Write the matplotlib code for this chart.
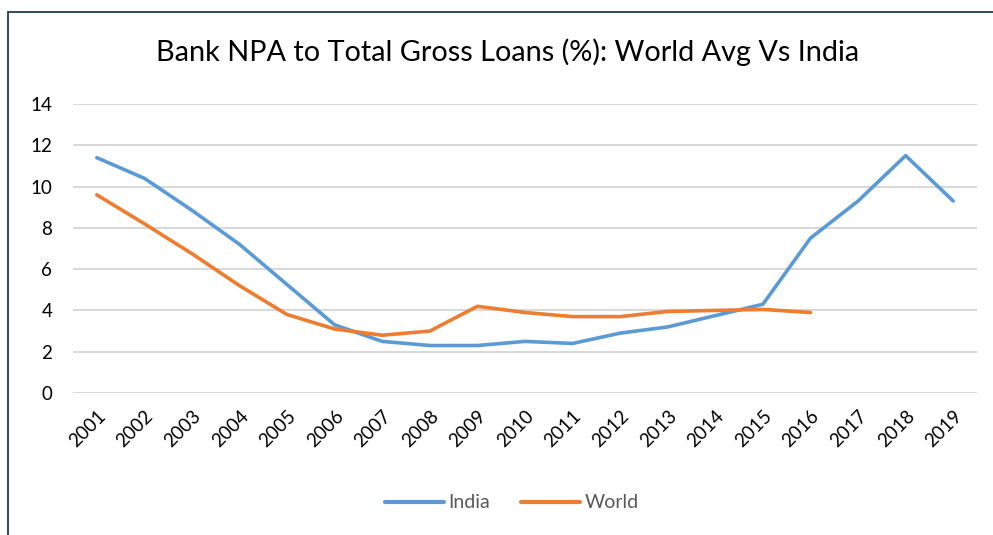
import matplotlib.pyplot as plt
from matplotlib.patches import Rectangle

# Bank NPA to total gross loans (%)
years = ['2001', '2002', '2003', '2004', '2005', '2006', '2007', '2008', '2009', '2010',
         '2011', '2012', '2013', '2014', '2015', '2016', '2017', '2018', '2019']
india = [11.4, 10.4, 8.85, 7.2, 5.25, 3.3, 2.5, 2.3, 2.3, 2.5,
         2.4, 2.9, 3.2, 3.75, 4.3, 7.5, 9.3, 11.5, 9.3]
world = [9.6, 8.2, 6.75, 5.2, 3.8, 3.1, 2.8, 3.0, 4.2, 3.9,
         3.7, 3.7, 3.95, 4.0, 4.05, 3.9]
y_ticks = [0, 2, 4, 6, 8, 10, 12, 14]

plt.rcParams['font.family'] = ['Lato', 'DejaVu Sans']

fig = plt.figure(figsize=(9.93, 5.35), dpi=100)
ax = fig.add_axes([73 / 993, 1 - 393 / 535, (977 - 73) / 993, (393 - 104) / 535])

x = list(range(len(years)))
ax.plot(x, india, color='#5b9bd5', lw=2.6, label='India', solid_capstyle='round')
ax.plot(x[:len(world)], world, color='#ed7d31', lw=2.6, label='World', solid_capstyle='round')

ax.set_xlim(-0.5, len(years) - 0.5)
ax.set_ylim(0, 14)
ax.set_yticks(y_ticks)
ax.set_yticklabels([str(v) for v in y_ticks], fontsize=13.5)
ax.set_xticks(x)
ax.set_xticklabels(years, rotation=45, ha='right', rotation_mode='anchor', fontsize=13.5)
ax.tick_params(length=0, pad=10)
ax.tick_params(axis='y', pad=15)
ax.grid(axis='y', color='#d9d9d9', lw=1.5)
ax.set_axisbelow(True)
for s in ax.spines.values():
    s.set_visible(False)

fig.text(508 / 993, 1 - 52 / 535, 'Bank NPA to Total Gross Loans (%): World Avg Vs India',
         ha='center', va='center', fontsize=20.8)

leg = fig.legend(loc='center', bbox_to_anchor=(512 / 993, 1 - 503 / 535), ncol=2,
                 frameon=False, fontsize=14, handlelength=3.0, columnspacing=1.6,
                 handletextpad=0.25)
for t in leg.get_texts():
    t.set_color('#595959')
for h in leg.legend_handles:
    h.set_linewidth(3)

# chart frame (only left and top edges are visible in the crop)
fig.add_artist(Rectangle((8 / 993, -0.1), 1.2, 1.1 - 12 / 535, transform=fig.transFigure,
                         fill=False, edgecolor='#1f3b4d', lw=1.3))

fig.savefig('out.png', dpi=100)
